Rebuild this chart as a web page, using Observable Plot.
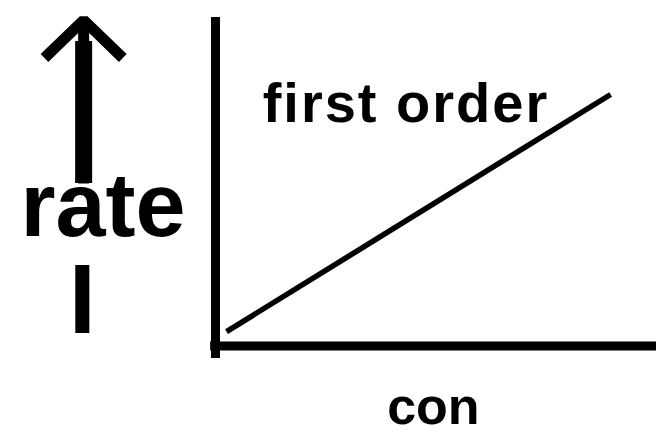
<!DOCTYPE html>
<html><head><meta charset="utf-8">
<script src="https://cdn.jsdelivr.net/npm/d3@7"></script>
<script src="https://cdn.jsdelivr.net/npm/@observablehq/plot@0.6"></script>
<style>
html,body{margin:0;padding:0;background:#fff;}
#chart svg{display:block;}
</style>
</head><body><div id="chart"></div>
<script>
// Data (arbitrary units)
const conc = [0.25, 8.96];        // concentration at line ends
const rate = [0.44, 7.68];        // rate at line ends
const yLabel = "rate";
const xLabel = "con";
const lineLabel = "first order";

const lineData = conc.map((c, i) => ({conc: c, rate: rate[i]}));
const font = "Liberation Sans, Arial, Helvetica, sans-serif";

const chart = Plot.plot({
  width: 656,
  height: 435,
  marginLeft: 215,
  marginRight: 0,
  marginTop: 18,
  marginBottom: 89.5,
  x: {domain: [0, 10], axis: null},
  y: {domain: [0, 10], axis: null},
  style: {background: "#fff", fontFamily: font},
  marks: [
    // axes
    Plot.ruleX([0], {y1: -0.38, y2: 10.03, stroke: "#000", strokeWidth: 9}),
    Plot.ruleY([0], {x1: -0.11, x2: 10, stroke: "#000", strokeWidth: 9}),
    // first-order line
    Plot.line(lineData, {x: "conc", y: "rate", stroke: "#000", strokeWidth: 5.5, strokeLinecap: "butt"}),
    Plot.text([lineLabel], {x: 1.07, y: 7.38, text: d => d, textAnchor: "start", fontSize: 56, fontWeight: "bold", fontFamily: font, fill: "#000"}),
    // y label with arrow
    Plot.arrow([0], {x1: -2.99, y1: 4.96, x2: -2.99, y2: 9.95, stroke: "#000", strokeWidth: 11, headAngle: 92, headLength: 8, strokeLinecap: "butt"}),
    Plot.ruleX([-2.99], {y1: 4.96, y2: 9.3, stroke: "#000", strokeWidth: 17}),
    Plot.ruleX([-3.02], {y1: 0.38, y2: 2.46, stroke: "#000", strokeWidth: 14}),
    Plot.text([yLabel], {x: -2.55, y: 4.23, text: d => d, fontSize: 90, fontWeight: "bold", fontFamily: font, fill: "#000"}),
    // x label
    Plot.text([xLabel], {x: 4.94, y: -1.86, text: d => d, fontSize: 52, fontWeight: "bold", fontFamily: font, fill: "#000"})
  ]
});
d3.select(chart).selectAll("text").filter(function() { return this.textContent === lineLabel; })
  .attr("letter-spacing", "2px");
document.getElementById("chart").appendChild(chart);
</script>
</body></html>
